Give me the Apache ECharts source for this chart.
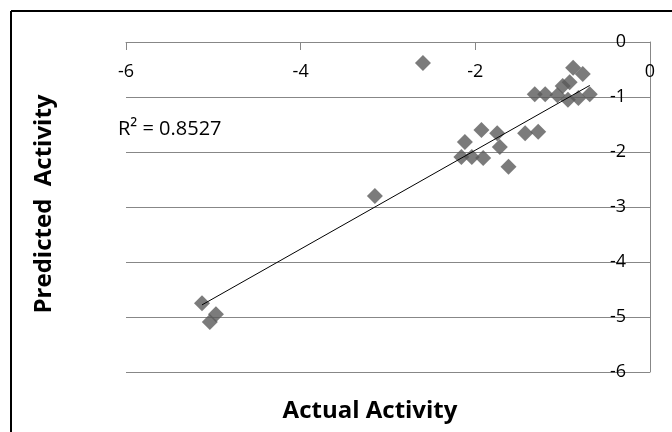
<!DOCTYPE html>
<html>
<head>
<meta charset="utf-8">
<script src="https://cdn.jsdelivr.net/npm/echarts@6/dist/echarts.min.js"></script>
<style>html,body{margin:0;padding:0;background:#fff;}#chart{width:672px;height:432px;}</style>
</head>
<body>
<div id="chart"></div>
<script>
// Data
var actual = [-5.13, -5.04, -4.97, -3.15, -2.60, -2.12, -1.93, -1.75, -1.72, -2.16, -2.04, -1.91, -1.62, -1.43, -1.28,
              -0.88, -0.77, -0.92, -1.00, -1.32, -1.20, -1.06, -0.94, -0.82, -0.69];
var predicted = [-4.75, -5.09, -4.95, -2.80, -0.38, -1.82, -1.60, -1.66, -1.91, -2.09, -2.09, -2.11, -2.27, -1.66, -1.63,
                 -0.47, -0.58, -0.73, -0.80, -0.95, -0.95, -0.97, -1.05, -1.02, -0.95];
var trendX = [-5.13, -0.69];
var trendY = [-4.78, -0.79];
var xTicks = [-6, -4, -2, 0];
var yTicks = [0, -1, -2, -3, -4, -5, -6];
var r2Label = 'R\u00b2 = 0.8527';
var xTitle = 'Actual Activity';
var yTitle = 'Predicted  Activity';

var points = actual.map(function (x, i) { return [x, predicted[i]]; });
var trend = trendX.map(function (x, i) { return [x, trendY[i]]; });

var chart = echarts.init(document.getElementById('chart'), null, {renderer: 'canvas'});
var grey = '#878787';
var font = 'Open Sans';
chart.setOption({
  animation: false,
  backgroundColor: '#fff',
  grid: {left: 126, right: 22, top: 42, bottom: 60},
  xAxis: {
    type: 'value', position: 'top', min: -6, max: 0, interval: 2,
    axisLine: {onZero: false, lineStyle: {color: grey, width: 1}},
    axisTick: {show: true, inside: true, length: 8, lineStyle: {color: grey}},
    axisLabel: {inside: true, margin: 21, color: '#000', fontFamily: font, fontSize: 18,
      formatter: function (v) { return xTicks.indexOf(v) >= 0 ? String(v) : ''; }},
    splitLine: {show: false}
  },
  yAxis: {
    type: 'value', position: 'right', min: -6, max: 0, interval: 1,
    axisLine: {show: true, onZero: false, lineStyle: {color: grey, width: 1}},
    axisTick: {show: false},
    axisLabel: {inside: true, margin: 24, color: '#000', fontFamily: font, fontSize: 18,
      formatter: function (v) { return yTicks.indexOf(v) >= 0 ? String(v) : ''; }},
    splitLine: {show: true, lineStyle: {color: grey, width: 1}}
  },
  series: [
    {type: 'scatter', data: points, symbol: 'diamond', symbolSize: 16,
      itemStyle: {color: '#5a5a5a'}, z: 2},
    {type: 'line', data: trend, symbol: 'none', lineStyle: {color: '#000', width: 1}, z: 3}
  ],
  graphic: [
    {type: 'line', shape: {x1: 11, y1: 11, x2: 672, y2: 11}, style: {stroke: '#000', lineWidth: 2}},
    {type: 'line', shape: {x1: 11, y1: 11, x2: 11, y2: 432}, style: {stroke: '#000', lineWidth: 2}},
    {type: 'text', x: 118, y: 129, style: {text: r2Label, fill: '#000', font: '20px "Open Sans"', textVerticalAlign: 'middle'}},
    {type: 'text', x: 370, y: 411, style: {text: xTitle, fill: '#000', font: 'bold 24px "Open Sans"', textAlign: 'center', textVerticalAlign: 'middle'}},
    {type: 'text', x: 44, y: 204, rotation: Math.PI / 2, style: {text: yTitle, fill: '#000', font: 'bold 24px "Open Sans"', textAlign: 'center', textVerticalAlign: 'middle'}}
  ]
});
</script>
</body>
</html>
